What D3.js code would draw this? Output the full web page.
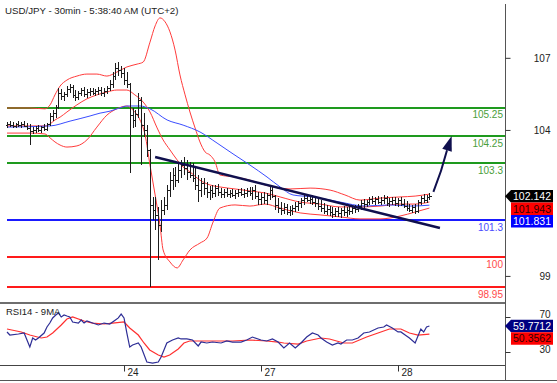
<!DOCTYPE html>
<html><head><meta charset="utf-8">
<script src="https://cdn.jsdelivr.net/npm/d3@7"></script>
<style>body{margin:0;background:#fff;} svg{display:block;font-family:"Liberation Sans",Arial,sans-serif;}</style>
</head><body>
<svg id="c" width="557" height="383"></svg>
<script>
const title = "USD/JPY - 30min - 5:38:40 AM (UTC+2)";
const rsiTitle = "RSI14 - 9MA";
// OHLC bars, 30 min [open, high, low, close]
const bars = [
[104.64,104.75,104.54,104.68],[104.68,104.78,104.57,104.64],[104.64,104.75,104.54,104.61],[104.61,104.71,104.54,104.68],
[104.68,104.78,104.57,104.64],[104.64,104.75,104.54,104.68],[104.68,104.78,104.57,104.61],[104.61,104.71,104.47,104.54],
[104.54,104.68,103.94,104.43],[104.43,104.57,104.33,104.47],[104.47,104.61,104.36,104.54],[104.54,104.64,104.40,104.47],
[104.47,104.61,104.36,104.57],[104.57,104.68,104.43,104.50],[104.50,104.71,104.43,104.68],[104.68,105.06,104.61,104.96],
[104.96,105.17,104.78,105.06],[105.06,105.35,104.89,105.28],[105.28,105.94,105.21,105.77],[105.77,105.91,105.52,105.66],
[105.66,105.80,105.49,105.73],[105.73,106.01,105.63,105.91],[105.91,106.08,105.77,105.98],[105.98,106.05,105.59,105.70],
[105.70,105.87,105.49,105.63],[105.63,105.84,105.52,105.77],[105.77,105.94,105.66,105.87],[105.87,105.98,105.63,105.73],
[105.73,105.91,105.59,105.80],[105.80,105.94,105.66,105.84],[105.84,105.94,105.70,105.77],[105.77,105.91,105.66,105.84],
[105.84,105.98,105.70,105.87],[105.87,105.98,105.66,105.77],[105.77,105.94,105.63,105.84],[105.84,106.01,105.73,105.94],
[105.94,106.22,105.84,106.08],[106.08,106.50,105.94,106.36],[106.36,106.82,106.22,106.64],[106.64,106.85,106.36,106.57],
[106.57,106.71,106.29,106.47],[106.47,106.64,106.05,106.22],[106.22,106.50,105.94,106.08],[106.08,106.12,102.96,104.99],
[104.99,105.24,104.54,104.82],[104.82,105.17,104.57,105.03],[105.03,105.77,104.89,105.52],[105.52,105.63,103.24,104.64],
[104.64,105.06,104.22,104.47],[104.47,104.64,103.52,103.77],[103.77,103.80,98.96,101.84],[101.84,102.12,101.31,101.66],
[101.66,102.12,100.96,101.49],[101.49,101.77,99.91,101.14],[101.14,102.01,100.89,101.66],[101.66,102.12,101.49,101.84],
[101.84,102.54,101.66,102.36],[102.36,103.00,102.12,102.71],[102.71,103.14,102.36,102.89],[102.89,103.17,102.47,102.71],
[102.71,103.31,102.61,103.07],[103.07,103.42,102.78,103.24],[103.24,103.52,102.89,103.14],[103.14,103.42,102.71,103.00],
[103.00,103.35,102.78,102.89],[102.89,103.31,102.64,102.78],[102.78,103.14,102.36,102.54],[102.54,102.89,101.94,102.36],
[102.36,102.78,102.12,102.61],[102.61,102.78,102.19,102.43],[102.43,102.64,102.08,102.29],[102.29,102.50,102.01,102.36],
[102.36,102.54,102.08,102.26],[102.26,102.54,102.12,102.43],[102.43,102.57,102.15,102.29],[102.29,102.43,102.08,102.22],
[102.22,102.40,102.08,102.29],[102.29,102.43,102.12,102.22],[102.22,102.36,102.08,102.26],[102.26,102.40,102.12,102.19],
[102.19,102.36,102.05,102.26],[102.26,102.40,102.12,102.29],[102.29,102.43,102.15,102.22],[102.22,102.40,102.08,102.26],
[102.26,102.43,102.12,102.33],[102.33,102.47,102.15,102.26],[102.26,102.47,102.01,102.36],[102.36,102.54,102.05,102.15],
[102.15,102.29,101.84,102.05],[102.05,102.26,101.84,102.12],[102.12,102.29,101.87,102.01],[102.01,102.26,101.84,102.19],
[102.19,102.47,102.01,102.36],[102.36,102.47,102.08,102.15],[102.15,102.19,101.66,101.84],[101.84,102.08,101.56,101.73],
[101.73,101.94,101.49,101.66],[101.66,101.91,101.52,101.77],[101.77,101.87,101.49,101.59],[101.59,101.80,101.45,101.66],
[101.66,101.84,101.49,101.73],[101.73,101.94,101.59,101.80],[101.80,101.98,101.63,101.91],[101.91,102.08,101.73,102.01],
[102.01,102.19,101.84,102.08],[102.08,102.19,101.94,102.01],[102.01,102.15,101.87,102.05],[102.05,102.19,101.84,101.94],
[101.94,102.12,101.77,101.91],[101.91,102.08,101.66,101.80],[101.80,102.01,101.59,101.73],[101.73,101.91,101.52,101.63],
[101.63,101.84,101.49,101.70],[101.70,101.80,101.45,101.59],[101.59,101.77,101.38,101.52],[101.52,101.73,101.42,101.63],
[101.63,101.77,101.42,101.56],[101.56,101.73,101.38,101.66],[101.66,101.80,101.45,101.59],[101.59,101.77,101.42,101.66],
[101.66,101.80,101.49,101.63],[101.63,101.80,101.52,101.73],[101.73,101.84,101.56,101.70],[101.70,101.87,101.59,101.80],
[101.80,102.01,101.66,101.91],[101.91,102.05,101.73,101.87],[101.87,102.01,101.77,101.94],[101.94,102.12,101.84,102.05],
[102.05,102.15,101.87,101.98],[101.98,102.12,101.84,102.05],[102.05,102.15,101.87,101.94],[101.94,102.12,101.84,102.01],
[102.01,102.19,101.87,102.08],[102.08,102.15,101.80,101.91],[101.91,102.08,101.77,101.98],[101.98,102.12,101.84,102.01],
[102.01,102.12,101.80,101.91],[101.91,102.08,101.77,102.01],[102.01,102.12,101.80,101.87],[101.87,102.05,101.73,101.80],
[101.80,101.98,101.63,101.73],[101.73,101.87,101.59,101.66],[101.66,101.84,101.56,101.77],[101.77,101.87,101.52,101.63],
[101.63,102.01,101.56,101.94],[101.94,102.15,101.84,102.08],[102.08,102.22,101.91,102.01],[102.01,102.19,101.91,102.12],
[102.12,102.26,102.01,102.142]
];
// Bollinger bands (red) and moving average (blue): [bar position, price]
const bbUpper = [[0,105.24],[8.1,105.24],[13.3,105.21],[15.1,105.35],[16.8,105.70],[18.6,106.01],[21,106.22],[24.5,106.36],[28,106.43],[31.5,106.43],[35,106.36],[38.5,106.50],[42,106.68],[45.6,106.78],[47.7,106.85],[50.1,107.55],[51.9,108.12],[53.6,108.40],[55.4,108.26],[57.1,107.91],[58.9,107.27],[60.6,106.40],[62.4,105.70],[64.1,105.10],[65.9,104.54],[67.6,104.05],[69.4,103.70],[71.1,103.59],[72.9,103.35],[74.6,102.89],[79.9,102.82],[85.1,102.71],[90.4,102.54],[99.2,102.40],[106.2,102.43],[113.2,102.36],[118.4,102.19],[123.7,102.01],[130.7,102.08],[137.7,102.12],[143,102.15],[148,102.22]];
const bbMiddle = [[0,104.61],[13.3,104.61],[15.1,104.68],[16.8,104.82],[18.6,104.92],[21,105.10],[24.5,105.35],[28,105.56],[31.5,105.70],[35,105.80],[38.5,105.87],[42,105.87],[44.8,105.70],[47.7,105.45],[50.1,105.10],[52.6,104.54],[54.7,104.12],[57.1,103.77],[59.6,103.42],[61.7,103.17],[64.1,103.00],[67.6,102.71],[71.1,102.54],[74.6,102.47],[79.9,102.40],[85.1,102.33],[90.4,102.26],[95.7,102.12],[102.7,101.94],[109.7,101.87],[116.7,101.77],[123.7,101.77],[130.7,101.80],[137.7,101.87],[143,101.87],[148,101.943]];
const bbLower = [[0,104.36],[8.1,104.36],[13.3,104.33],[15.1,104.19],[16.8,104.05],[18.6,103.94],[21,103.87],[24.5,103.91],[28,104.12],[31.5,104.57],[35,104.99],[38.5,105.21],[42,105.31],[44.1,105.17],[46.6,104.82],[48.4,104.29],[50.1,103.24],[51.9,102.19],[53.6,101.14],[54.7,100.26],[57.1,99.84],[59.6,99.63],[61.7,99.91],[64.1,100.26],[67.6,100.50],[70.1,100.68],[72.2,101.24],[74.6,101.73],[79.9,101.84],[85.1,101.80],[90.4,101.87],[95.7,101.73],[102.7,101.56],[109.7,101.49],[116.7,101.42],[123.7,101.35],[130.7,101.35],[137.7,101.45],[143,101.59],[148,101.73]];
const maBlue = [[0,104.57],[15.1,104.61],[22.1,104.78],[29.1,104.96],[32.6,105.06],[36.1,105.13],[38.5,105.21],[42.4,105.31],[46.6,105.31],[50.1,105.21],[56.1,104.82],[61.7,104.64],[67.6,104.40],[73.6,104.01],[79.2,103.63],[85.1,103.24],[91.1,102.82],[95.7,102.47],[100.2,102.19],[107.2,102.12],[116.7,101.94],[125.4,101.80],[134.2,101.84],[141.2,101.80],[148,101.831]];
const trendLine = [[51.9,103.52],[151.7,101.03]];
const arrowLine = [[149.4,102.30],[155.8,104.26]];
// horizontal levels
const levelValues = [105.25, 104.25, 103.3, 101.3, 100, 98.95];
const levelLabels = ["105.25", "104.25", "103.3", "101.3", "100", "98.95"];
const levelKinds  = ["g", "g", "g", "b", "r", "r"];
// RSI(14) and its 9-period MA: [bar position, value]
const rsi = [[0,52.9],[1,49.4],[4,50.6],[6,51.7],[8,35.7],[9,46.0],[10,43.7],[11,46.0],[13,51.7],[14,58.6],[15,63.1],[16,68.9],[17,72.0],[18,74.6],[19,70.0],[20,72.3],[21,71.1],[22,70.0],[23,64.3],[25,63.1],[26,66.6],[27,63.1],[28,65.4],[30,63.1],[32,60.9],[34,63.1],[36,62.0],[38,66.6],[39,69.0],[40,73.4],[41,68.9],[42,51.7],[43,35.7],[44,38.0],[46,40.3],[47,35.7],[49,18.6],[51,17.4],[53,18.6],[54,24.3],[55,32.3],[56,40.3],[58,43.7],[60,46.0],[61,44.9],[63,44.9],[65,43.7],[67,36.9],[68,41.4],[70,40.3],[72,41.4],[75,40.3],[77,42.6],[79,41.4],[82,41.4],[84,43.7],[86,47.1],[89,43.7],[91,42.6],[93,44.9],[95,41.4],[97,34.6],[99,40.3],[101,34.6],[103,40.3],[105,47.1],[107,51.7],[109,49.4],[110,46.0],[112,41.4],[114,38.0],[116,40.3],[117,39.1],[119,43.7],[121,43.7],[123,46.0],[125,51.7],[127,52.9],[130,57.4],[132,58.6],[133,60.9],[135,57.4],[137,52.9],[138,52.9],[140,48.3],[141,46.0],[143,40.3],[144,48.3],[145,56.3],[146,52.9],[147,58.6],[148,59.7712]];
const rsiMA = [[0,56.3],[5,52.9],[8,49.4],[12,46.0],[14,47.1],[16,51.7],[19,60.9],[21,67.7],[23,70.0],[27,65.4],[30,63.1],[34,62.0],[37,63.1],[41,64.3],[43,57.4],[46,49.4],[48,40.3],[50,32.3],[53,26.6],[55,24.3],[57,26.6],[60,33.4],[62,40.3],[64,42.6],[68,42.6],[74,42.6],[79,42.6],[85,43.7],[91,42.6],[95,41.4],[97,40.3],[102,39.1],[105,42.6],[110,46.0],[113,44.9],[118,40.3],[121,40.3],[126,47.1],[131,52.9],[134,56.3],[138,56.3],[141,51.7],[144,49.4],[148,50.3562]];
// axes
const priceTicks = [107, 104.47, 99.35];
const rsiTicks = [70, 30];
const dayTicks = [41, 89, 137];
const dayLabels = ["24", "27", "28"];
// last values (boxes)
const priceBoxes = [["102.142", 102.142, "#000", "#fff", true], ["101.943", 101.943, "#ff0000", "#300", false], ["101.831", 101.831, "#0000ff", "#fff", false]];
const rsiBoxes = [["59.7712", 59.7712, "#000080", "#fff", true], ["50.3562", 50.3562, "#ff0000", "#300", false]];

const svg = d3.select("#c");
const AX = 505;
const xs = d3.scaleLinear().domain([0, bars.length - 1]).range([7, 429.4]);
const y = d3.scaleLinear().domain([98.365, 109.028]).range([304, 0]);
const yr = d3.scaleLinear().domain([16.29, 84.86]).range([364, 304]);

const defs = svg.append("defs");
defs.append("clipPath").attr("id","cm").append("rect").attr("x",0).attr("y",0).attr("width",AX).attr("height",302);
defs.append("clipPath").attr("id","cr").append("rect").attr("x",0).attr("y",304).attr("width",AX).attr("height",61);

const main = svg.append("g").attr("clip-path","url(#cm)");
const lvlStroke = {g:"#1e9a1e", b:"#1a1aff", r:"#ff1a1a"};
const lvlText = {g:"#4a9e3a", b:"#4a4aff", r:"#ff4a4a"};

main.selectAll("line.lvl").data(levelValues).join("line").attr("class","lvl")
  .attr("x1", xs(0)).attr("x2", AX)
  .attr("y1", d => Math.round(y(d))).attr("y2", d => Math.round(y(d)))
  .attr("stroke", (d,i) => lvlStroke[levelKinds[i]]).attr("stroke-width", 2)
  .attr("shape-rendering","crispEdges");

const line = d3.line().x(d => xs(d[0])).y(d => y(d[1])).curve(d3.curveMonotoneX);
[[bbUpper,"#ff3b3b"],[bbLower,"#ff3b3b"],[bbMiddle,"#ff3b3b"],[maBlue,"#3a4dff"]].forEach(([data,c]) => {
  main.append("path").datum(data).attr("d", line).attr("fill","none").attr("stroke",c).attr("stroke-width",1);
});

main.append("g").attr("stroke","#1c1c1c").attr("stroke-width",1).attr("shape-rendering","crispEdges")
  .selectAll("path").data(bars).join("path")
  .attr("d", (d,i) => {
    const x = Math.round(xs(i)) + 0.5;
    const yo = Math.round(y(d[0])) + 0.5, yc = Math.round(y(d[3])) + 0.5;
    return `M${x},${y(d[1])}V${y(d[2])}M${x-2},${yo}H${x}M${x},${yc}H${x+2}`;
  });

const sline = d3.line().x(d => xs(d[0])).y(d => y(d[1]));
main.append("path").datum(trendLine).attr("d", sline).attr("stroke","#10104e").attr("stroke-width",2.5).attr("fill","none");

// arrow
const a0 = [xs(arrowLine[0][0]), y(arrowLine[0][1])], a1 = [xs(arrowLine[1][0]), y(arrowLine[1][1])];
const ang = Math.atan2(a1[1]-a0[1], a1[0]-a0[0]);
const hl = 15, hw = 5;
const bx = a1[0] - hl*Math.cos(ang), by = a1[1] - hl*Math.sin(ang);
main.append("path").attr("d", `M${a0[0]},${a0[1]}Q${(a0[0]+bx)/2+1.5},${(a0[1]+by)/2} ${bx},${by}`)
  .attr("stroke","#10104e").attr("stroke-width",2).attr("fill","none");
main.append("path").attr("d", `M${a1[0]},${a1[1]}L${bx - hw*Math.sin(ang)},${by + hw*Math.cos(ang)}L${bx + hw*Math.sin(ang)},${by - hw*Math.cos(ang)}Z`)
  .attr("fill","#10104e");

svg.selectAll("text.lvl").data(levelValues).join("text").attr("class","lvl")
  .attr("x", AX - 2).attr("y", d => y(d) + 10.5).attr("text-anchor","end")
  .attr("font-size","10px").attr("fill",(d,i) => lvlText[levelKinds[i]])
  .text((d,i) => levelLabels[i]);

svg.append("text").attr("x",5).attr("y",14).attr("font-size","9.7px").attr("fill","#222").text(title);

// RSI panel
const rp = svg.append("g").attr("clip-path","url(#cr)");
const rline = d3.line().x(d => xs(d[0])).y(d => yr(d[1]));
rp.append("path").datum(rsiMA).attr("d", rline).attr("fill","none").attr("stroke","#ff3030").attr("stroke-width",1.2);
rp.append("path").datum(rsi).attr("d", rline).attr("fill","none").attr("stroke","#2e2e96").attr("stroke-width",1.2);
const rt = svg.append("text").attr("x",6).attr("y",315).attr("font-size","9.5px").attr("fill","#222").text(rsiTitle);
const bb = rt.node().getBBox();
svg.insert("rect", "text").attr("x", bb.x - 1).attr("y", bb.y).attr("width", bb.width + 2).attr("height", bb.height).attr("fill","#fff");

// frame
svg.append("line").attr("x1",0).attr("x2",AX).attr("y1",303).attr("y2",303).attr("stroke","#6e6e6e").attr("stroke-width",2);
svg.append("line").attr("x1",0).attr("x2",AX).attr("y1",365.5).attr("y2",365.5).attr("stroke","#444");
svg.append("line").attr("x1",0).attr("x2",557).attr("y1",380.5).attr("y2",380.5).attr("stroke","#555");
svg.append("line").attr("x1",AX+0.5).attr("x2",AX+0.5).attr("y1",4).attr("y2",380).attr("stroke","#555");

// axes
function styleAxis(g){ g.attr("font-family",null).attr("font-size",null); g.select(".domain").remove(); g.selectAll("line").attr("stroke","#333"); g.selectAll("text").attr("fill","#222").attr("font-size","10px"); }
const ga = svg.append("g").attr("transform",`translate(${AX+0.5},0)`).call(d3.axisRight(y).tickValues(priceTicks).tickFormat(d3.format(".0f")).tickSize(5));
styleAxis(ga); ga.selectAll("text").attr("x",45).attr("text-anchor","end");
const gr = svg.append("g").attr("transform",`translate(${AX+0.5},0)`).call(d3.axisRight(yr).tickValues(rsiTicks).tickFormat(d3.format("d")).tickSize(5));
styleAxis(gr); gr.selectAll("text").attr("x",45).attr("y",-2.5).attr("text-anchor","end");
const gx = svg.append("g").attr("transform","translate(0,365.5)").call(d3.axisBottom(xs).tickValues(dayTicks).tickFormat((d,k) => dayLabels[k]).tickSize(6));
styleAxis(gx); gx.selectAll("text").attr("x",3).attr("y",3).attr("text-anchor","start");

// value boxes
function boxes(list, scale){
  const h = 12.5; let prev = -1e9;
  list.forEach(([lab, v, fill, tc, arrow]) => {
    let yc = Math.max(scale(v), prev + h); prev = yc;
    const t = yc - h/2, b = yc + h/2;
    const d = arrow ? `M${AX},${yc}L${AX+6},${t}H553V${b}H${AX+6}Z` : `M${AX+6},${t}H553V${b}H${AX+6}Z`;
    svg.append("path").attr("d", d).attr("fill", fill);
    svg.append("text").attr("x", 551).attr("y", yc + 4).attr("text-anchor","end").attr("font-size","10.5px").attr("fill", tc).text(lab);
  });
}
boxes(priceBoxes, y);
boxes(rsiBoxes, yr);
</script>
</body></html>
